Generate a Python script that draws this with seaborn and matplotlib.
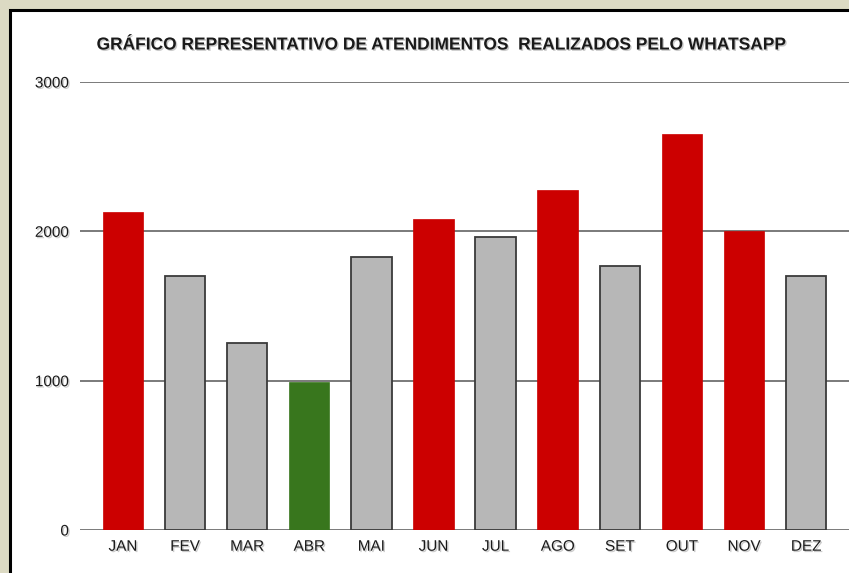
import matplotlib
matplotlib.use("Agg")
import matplotlib.pyplot as plt
import matplotlib.patheffects as pe
from matplotlib.patches import Rectangle
import seaborn as sns

# ---- data ----
months = ["JAN", "FEV", "MAR", "ABR", "MAI", "JUN", "JUL", "AGO", "SET", "OUT", "NOV", "DEZ"]
values = [2130, 1700, 1255, 990, 1830, 2080, 1965, 2280, 1765, 2650, 2000, 1700]
highlight = ["alto", "normal", "normal", "baixo", "normal", "alto",
             "normal", "alto", "normal", "alto", "alto", "normal"]
y_ticks = [0, 1000, 2000, 3000]
title = "GRÁFICO REPRESENTATIVO DE ATENDIMENTOS  REALIZADOS PELO WHATSAPP"

color_map = {"alto": "#CC0000", "normal": "#B7B7B7", "baixo": "#38761D"}
edge_map = {"alto": "none", "normal": "#3a3a3a", "baixo": "none"}

sns.set_theme(style="white")
plt.rcParams["font.family"] = ["Liberation Sans", "DejaVu Sans"]

W, H = 849, 573
fig = plt.figure(figsize=(W / 100, H / 100), dpi=100)
fig.patch.set_facecolor("#dcdac3")

# inner white panel with black frame (left/top visible)
fig.add_artist(Rectangle((12 / W, 0), 1, 1 - 12 / H, transform=fig.transFigure,
                         facecolor="white", edgecolor="none", zorder=0))
fig.add_artist(Rectangle((10 / W, -0.01), 1, 1 - 10 / H + 0.01, transform=fig.transFigure,
                         facecolor="none", edgecolor="black", linewidth=2.2, zorder=1))

ax = fig.add_axes([80 / W, (H - 530) / H, (W - 80) / W, (530 - 82) / H])
ax.set_facecolor("none")

palette = [color_map[h] for h in highlight]
sns.barplot(x=months, y=values, hue=months, palette=palette, width=0.65,
            saturation=1, legend=False, ax=ax, zorder=3)

for patch, h in zip(ax.patches, highlight):
    ec = edge_map[h]
    if ec == "none":
        patch.set_edgecolor(color_map[h])
        patch.set_linewidth(0.5)
    else:
        patch.set_edgecolor(ec)
        patch.set_linewidth(1.3)

ax.set_ylim(0, 3000)
ax.set_xlim(-0.69, 11.69)
ax.set_yticks(y_ticks)
ax.set_yticklabels([str(t) for t in y_ticks])
for t in y_ticks:
    ax.axhline(t, color="#7a7a7a", linewidth=1.4, zorder=1)

for s in ["top", "right", "left", "bottom"]:
    ax.spines[s].set_visible(False)
ax.tick_params(axis="both", length=0)
ax.tick_params(axis="y", pad=8, labelsize=11, labelcolor="#1a1a1a")
ax.tick_params(axis="x", pad=7, labelsize=11, labelcolor="#1a1a1a")
ax.set_xlabel("")
ax.set_ylabel("")

shadow = [pe.withSimplePatchShadow(offset=(1, -1), shadow_rgbFace="#999999", alpha=0.5)]
for lab in ax.get_xticklabels() + ax.get_yticklabels():
    lab.set_path_effects(shadow)

fig.text(441 / W, 1 - 45 / H, title, ha="center", va="center",
         fontsize=12.5, fontweight="bold", color="#1a1a1a",
         family=["Liberation Sans Narrow", "Liberation Sans", "DejaVu Sans"],
         path_effects=shadow)

fig.savefig("out.png", dpi=100)
